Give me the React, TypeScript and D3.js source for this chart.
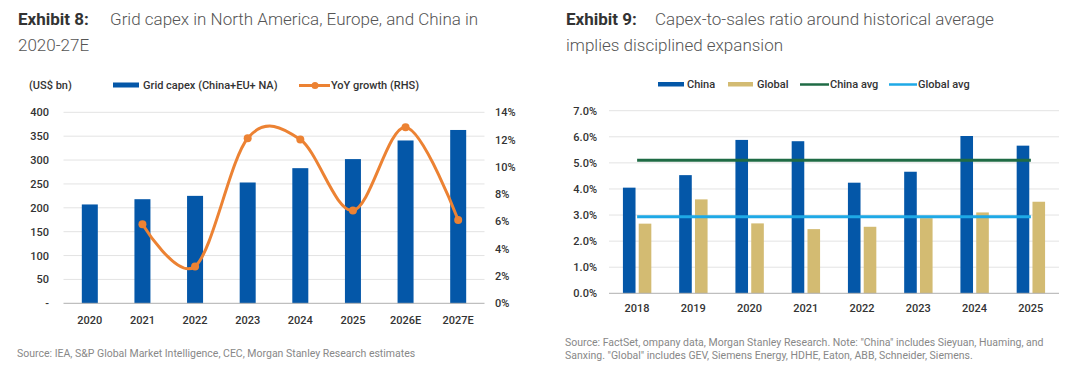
import React from "react";
import * as d3 from "d3";

// ---- Exhibit 8 data ----
const years8 = ["2020", "2021", "2022", "2023", "2024", "2025", "2026E", "2027E"];
const gridCapex = [207, 218, 225, 253, 283, 302, 341, 363];
const yoyGrowth: (number | null)[] = [null, 5.8, 2.7, 12.1, 12.0, 6.8, 12.9, 6.1];
const leftTicks = [0, 50, 100, 150, 200, 250, 300, 350, 400];
const rightTicks = [0, 2, 4, 6, 8, 10, 12, 14];

// ---- Exhibit 9 data ----
const years9 = ["2018", "2019", "2020", "2021", "2022", "2023", "2024", "2025"];
const chinaRatio = [4.05, 4.53, 5.88, 5.83, 4.24, 4.66, 6.03, 5.66];
const globalRatio = [2.67, 3.6, 2.68, 2.46, 2.55, 2.88, 3.1, 3.51];
const chinaAvg = 5.1;
const globalAvg = 2.93;
const ratioTicks = [0, 1, 2, 3, 4, 5, 6, 7];

const BLUE = "#0457a8";
const ORANGE = "#ec8233";
const GOLD = "#d3bb72";
const GREEN = "#1f6b45";
const LIGHTBLUE = "#1ea9e6";
const GRID = "#e3e3e3";
const AXIS = "#b0b0b0";
const TICK = "#333";
const FONT = "Roboto, 'Noto Sans', sans-serif";

export default function App() {
  // ---------- Left chart ----------
  const x8 = d3.scaleBand<string>().domain(years8).range([63.5, 484.5]).paddingInner(0).paddingOuter(0);
  const yL = d3.scaleLinear().domain([0, 400]).range([303.3, 112.3]);
  const yR = d3.scaleLinear().domain([0, 14]).range([303.3, 112.3]);
  const bw8 = 16;
  const growthPts = years8
    .map((y, i) => ({ y, v: yoyGrowth[i] }))
    .filter((d) => d.v !== null) as { y: string; v: number }[];
  const line8 = d3
    .line<{ y: string; v: number }>()
    .x((d) => (x8(d.y) as number) + x8.bandwidth() / 2)
    .y((d) => yR(d.v))
    .curve(d3.curveCardinal.tension(0));

  // ---------- Right chart ----------
  const x9 = d3.scaleBand<string>().domain(years9).range([609, 1059]).paddingInner(0).paddingOuter(0);
  const y9 = d3.scaleLinear().domain([0, 7]).range([293.3, 110.7]);
  const bw9 = 12.6;
  const gap9 = 1.6;
  const c9 = (y: string) => (x9(y) as number) + x9.bandwidth() / 2;
  const avgX0 = c9(years9[0]);
  const avgX1 = c9(years9[years9.length - 1]);

  return (
    <svg
      width={1080}
      height={378}
      style={{ display: "block", background: "#fff", position: "absolute", left: 0, top: 0 }}
      fontFamily={FONT}
    >
      {/* ===== Titles ===== */}
      <text x={18} y={25} fontSize={17} fill="#333">
        <tspan fontWeight={700}>Exhibit 8:</tspan>
        <tspan x={110} fill="#555" fontWeight={300}>Grid capex in North America, Europe, and China in</tspan>
      </text>
      <text x={18} y={51} fontSize={17} fill="#555" fontWeight={300}>2020-27E</text>

      <text x={566} y={25} fontSize={17} fill="#333">
        <tspan fontWeight={700}>Exhibit 9:</tspan>
        <tspan x={655} fill="#555" fontWeight={300}>Capex-to-sales ratio around historical average</tspan>
      </text>
      <text x={566} y={51} fontSize={17} fill="#555" fontWeight={300}>implies disciplined expansion</text>

      {/* ===== Left legend ===== */}
      <g fontSize={11} fill={TICK} fontWeight={500}>
        <text x={29} y={89}>(US$ bn)</text>
        <rect x={113} y={82.5} width={26} height={5} fill={BLUE} />
        <text x={143} y={89}>Grid capex (China+EU+ NA)</text>
        <line x1={299} x2={330} y1={85.5} y2={85.5} stroke={ORANGE} strokeWidth={3} />
        <circle cx={315} cy={85.5} r={3.5} fill={ORANGE} />
        <text x={331} y={89}>YoY growth (RHS)</text>
      </g>

      {/* ===== Left chart grid & axes ===== */}
      {leftTicks.map((t) => (
        <g key={"lg" + t}>
          {t > 0 && <line x1={63.5} x2={484.5} y1={yL(t)} y2={yL(t)} stroke={GRID} strokeWidth={1} />}
          <text x={49} y={yL(t) + 4} textAnchor="end" fontSize={11} fill={TICK} fontWeight={500}>
            {t === 0 ? "-" : t}
          </text>
        </g>
      ))}
      {rightTicks.map((t) => (
        <text key={"rt" + t} x={495} y={yR(t) + 4} fontSize={11} fill={TICK} fontWeight={500}>
          {t + "%"}
        </text>
      ))}
      {years8.map((y, i) => (
        <rect
          key={"b8" + y}
          x={(x8(y) as number) + x8.bandwidth() / 2 - bw8 / 2}
          y={yL(gridCapex[i])}
          width={bw8}
          height={yL(0) - yL(gridCapex[i])}
          fill={BLUE}
        />
      ))}
      <line x1={63.5} x2={484.5} y1={yL(0)} y2={yL(0)} stroke={AXIS} strokeWidth={1} />
      {years8.map((y) => (
        <text
          key={"xl8" + y}
          x={(x8(y) as number) + x8.bandwidth() / 2}
          y={324}
          textAnchor="middle"
          fontSize={11}
          fill={TICK}
          fontWeight={500}
        >
          {y}
        </text>
      ))}
      <path d={line8(growthPts) || ""} fill="none" stroke={ORANGE} strokeWidth={3} />
      {growthPts.map((d) => (
        <circle
          key={"gp" + d.y}
          cx={(x8(d.y) as number) + x8.bandwidth() / 2}
          cy={yR(d.v)}
          r={4}
          fill={ORANGE}
        />
      ))}

      <text x={17} y={357} fontSize={10.5} fill="#888">
        Source: IEA, S&amp;P Global Market Intelligence, CEC, Morgan Stanley Research estimates
      </text>

      {/* ===== Right legend ===== */}
      <g fontSize={11} fill={TICK} fontWeight={500}>
        <rect x={658} y={82} width={26} height={4.5} fill={BLUE} />
        <text x={687} y={88}>China</text>
        <rect x={728} y={82} width={25} height={4.5} fill={GOLD} />
        <text x={757} y={88}>Global</text>
        <line x1={800} x2={829} y1={84.5} y2={84.5} stroke={GREEN} strokeWidth={2.5} />
        <text x={830} y={88}>China avg</text>
        <line x1={889} x2={917} y1={84.5} y2={84.5} stroke={LIGHTBLUE} strokeWidth={2.5} />
        <text x={918} y={88}>Global avg</text>
      </g>

      {/* ===== Right chart ===== */}
      {ratioTicks.map((t) => (
        <g key={"rg" + t}>
          {t > 0 && <line x1={609} x2={1059} y1={y9(t)} y2={y9(t)} stroke={GRID} strokeWidth={1} />}
          <text x={597} y={y9(t) + 4} textAnchor="end" fontSize={11} fill={TICK} fontWeight={500}>
            {t.toFixed(1) + "%"}
          </text>
        </g>
      ))}
      {years9.map((y, i) => (
        <g key={"b9" + y}>
          <rect
            x={c9(y) - gap9 - bw9}
            y={y9(chinaRatio[i])}
            width={bw9}
            height={y9(0) - y9(chinaRatio[i])}
            fill={BLUE}
          />
          <rect
            x={c9(y) + gap9}
            y={y9(globalRatio[i])}
            width={bw9}
            height={y9(0) - y9(globalRatio[i])}
            fill={GOLD}
          />
        </g>
      ))}
      <line x1={609} x2={1059} y1={y9(0)} y2={y9(0)} stroke={AXIS} strokeWidth={1} />
      <line x1={avgX0} x2={avgX1} y1={y9(chinaAvg)} y2={y9(chinaAvg)} stroke={GREEN} strokeWidth={3} />
      <line x1={avgX0} x2={avgX1} y1={y9(globalAvg)} y2={y9(globalAvg)} stroke={LIGHTBLUE} strokeWidth={3} />
      {years9.map((y) => (
        <text key={"xl9" + y} x={c9(y)} y={312} textAnchor="middle" fontSize={11} fill={TICK} fontWeight={500}>
          {y}
        </text>
      ))}

      <text x={565} y={346} fontSize={10.5} fill="#888">
        Source: FactSet, ompany data, Morgan Stanley Research. Note: "China" includes Sieyuan, Huaming, and
      </text>
      <text x={565} y={359} fontSize={10.5} fill="#888">
        Sanxing. "Global" includes GEV, Siemens Energy, HDHE, Eaton, ABB, Schneider, Siemens.
      </text>
    </svg>
  );
}
